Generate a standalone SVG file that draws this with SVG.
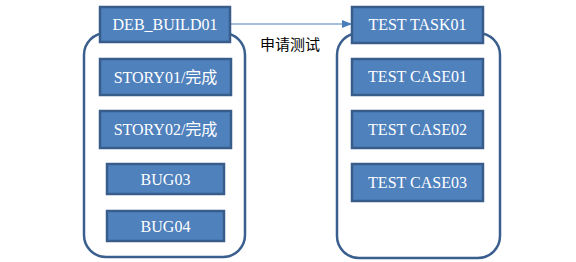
<svg xmlns="http://www.w3.org/2000/svg" width="576" height="262" viewBox="0 0 576 262">
<defs>
<style>
.cont{fill:#FFFFFF;stroke:#3A5F8E;stroke-width:2.5}
.box{fill:#4F81BD;stroke:#385D8A;stroke-width:2.5}
.t{font-family:"Liberation Serif","Noto Sans CJK SC",serif;font-size:16px;fill:#FFFFFF;text-anchor:middle}
.lbl{font-family:"Noto Sans CJK SC","Noto Sans",sans-serif;font-size:15px;fill:#000000;text-anchor:middle}
.conn{stroke:#4A7EBB;stroke-width:1.2;fill:none}
</style>
<marker id="arr" markerWidth="10" markerHeight="8" refX="9" refY="4" orient="auto" markerUnits="userSpaceOnUse">
<path d="M0,0 L10,4 L0,8 Z" fill="#4A7EBB"/>
</marker>
</defs>
<g id="left-container"><rect class="cont" x="84" y="33" width="161" height="224" rx="22"/></g>
<g id="right-container"><rect class="cont" x="337" y="33" width="163" height="225" rx="22"/></g>
<g id="connectors">
<line class="conn" x1="231" y1="24" x2="351" y2="24" marker-end="url(#arr)"/>
<text class="lbl" x="290" y="50">申请测试</text>
</g>
<g id="deb-build01"><rect class="box" x="100" y="7" width="130" height="35"/><text class="t" x="165" y="30">DEB_BUILD01</text></g>
<g id="story01"><rect class="box" x="100" y="59" width="131" height="36"/><text class="t" x="165.5" y="83">STORY01/完成</text></g>
<g id="story02"><rect class="box" x="100" y="111" width="131" height="37"/><text class="t" x="165.5" y="135">STORY02/完成</text></g>
<g id="bug03"><rect class="box" x="107" y="164" width="117" height="30"/><text class="t" x="165.5" y="185">BUG03</text></g>
<g id="bug04"><rect class="box" x="107" y="211" width="117" height="30"/><text class="t" x="165.5" y="232">BUG04</text></g>
<g id="test-task01"><rect class="box" x="352" y="7" width="131" height="36"/><text class="t" x="417.5" y="30">TEST TASK01</text></g>
<g id="test-case01"><rect class="box" x="352" y="59" width="131" height="36"/><text class="t" x="417.5" y="82">TEST CASE01</text></g>
<g id="test-case02"><rect class="box" x="352" y="111" width="131" height="37"/><text class="t" x="417.5" y="135">TEST CASE02</text></g>
<g id="test-case03"><rect class="box" x="352" y="164" width="131" height="37"/><text class="t" x="417.5" y="188">TEST CASE03</text></g>
</svg>
